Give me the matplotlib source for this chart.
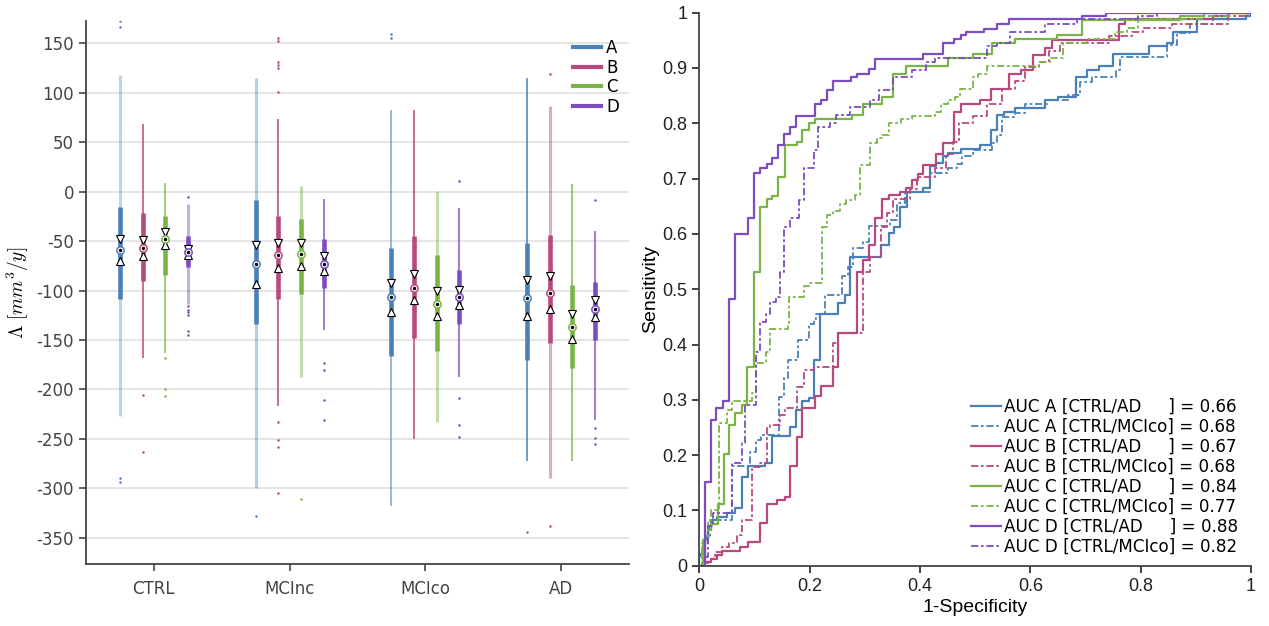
import numpy as np
import matplotlib
matplotlib.use("Agg")
import matplotlib.pyplot as plt
from matplotlib.ticker import FuncFormatter

plt.rcParams["axes.unicode_minus"] = False
plt.rcParams["mathtext.fontset"] = "cm"

groups = ["CTRL", "MCInc", "MCIco", "AD"]
series = ["A", "B", "C", "D"]
colors = ["#4a80b8", "#b8487e", "#78b545", "#7c4cc0"]

# box statistics, rows = series A..D, columns = groups
whisk_hi = [[118, 115, 83, 115], [68.5, 74, 83, 87], [9, 6, 1, 8], [-12, -7, -16, -40]]
q3 = [[-15, -8, -57, -52], [-22, -25, -45, -44], [-25, -28, -64, -94], [-45, -48, -79, -91]]
notch_hi = [[-48, -54, -92, -89], [-49, -52, -83, -85], [-41, -52, -100, -124], [-58, -65, -99, -110]]
median = [[-59, -73, -107, -108], [-57, -64, -97, -102], [-48, -63, -114, -137], [-61, -73, -107, -119]]
notch_lo = [[-70, -93, -122, -126], [-65, -77, -110, -119], [-54, -75, -126, -149], [-64, -80, -115, -127]]
q1 = [[-109, -134, -166, -170], [-90, -109, -148, -153], [-84, -104, -161, -178], [-76, -97, -134, -150]]
whisk_lo = [[-227, -300, -318, -272], [-168, -217, -250, -290], [-163, -187, -233, -272], [-114, -140, -187, -231]]
outliers = [
    [[173, 167, -290, -294], [-328], [160, 155], [-344]],
    [[-206, -263], [156, 152, 131, 128, 125, 101, -233, -251, -258, -305], [], [119, -338]],
    [[-168, -200, -207], [-311], [], []],
    [[-5, -116, -120, -122, -125, -141, -145], [-173, -180, -211, -231], [11, -209, -236, -248], [-8, -239, -249, -255]],
]
whisk_alpha = [[0.35, 0.4, 0.6, 0.85], [0.85, 0.85, 0.85, 0.45], [0.75, 0.45, 0.45, 0.8], [0.45, 0.8, 0.8, 0.8]]

# ROC curves (step corners)
fpr_A_ad = [0, 0.000, 0.010, 0.016, 0.022, 0.032, 0.050, 0.065, 0.077, 0.089, 0.119, 0.131, 0.164, 0.175, 0.187, 0.198, 0.208, 0.219, 0.252, 0.264, 0.273, 0.329, 0.343, 0.353, 0.364, 0.376, 0.406, 0.418, 0.429, 0.441, 0.451, 0.474, 0.508, 0.528, 0.539, 0.552, 0.572, 0.627, 0.651, 0.683, 0.703, 0.725, 0.749, 0.815, 0.847, 0.858, 0.903, 0.991, 1.0]
tpr_A_ad = [0, 0.022, 0.050, 0.065, 0.083, 0.088, 0.095, 0.104, 0.160, 0.180, 0.185, 0.235, 0.250, 0.282, 0.297, 0.304, 0.372, 0.456, 0.475, 0.490, 0.559, 0.580, 0.601, 0.613, 0.649, 0.675, 0.683, 0.723, 0.728, 0.740, 0.746, 0.753, 0.760, 0.787, 0.815, 0.820, 0.828, 0.842, 0.848, 0.884, 0.896, 0.904, 0.925, 0.939, 0.946, 0.966, 0.989, 0.994, 1.0]
fpr_A_mci = [0, 0.000, 0.010, 0.019, 0.025, 0.059, 0.092, 0.103, 0.112, 0.145, 0.154, 0.161, 0.178, 0.198, 0.208, 0.212, 0.228, 0.258, 0.270, 0.279, 0.297, 0.308, 0.346, 0.358, 0.373, 0.418, 0.451, 0.467, 0.477, 0.497, 0.530, 0.539, 0.548, 0.572, 0.590, 0.630, 0.669, 0.690, 0.711, 0.755, 0.763, 0.848, 0.865, 0.889, 0.932, 0.991, 1.0]
tpr_A_mci = [0, 0.018, 0.053, 0.071, 0.083, 0.180, 0.206, 0.227, 0.236, 0.305, 0.339, 0.372, 0.408, 0.437, 0.447, 0.455, 0.490, 0.523, 0.541, 0.574, 0.586, 0.614, 0.625, 0.655, 0.676, 0.710, 0.719, 0.726, 0.740, 0.751, 0.765, 0.779, 0.812, 0.818, 0.835, 0.842, 0.851, 0.875, 0.884, 0.896, 0.919, 0.942, 0.963, 0.980, 0.989, 0.994, 1.0]
fpr_B_ad = [0, 0.007, 0.022, 0.032, 0.041, 0.074, 0.089, 0.110, 0.123, 0.141, 0.155, 0.164, 0.177, 0.187, 0.210, 0.220, 0.243, 0.252, 0.285, 0.297, 0.308, 0.319, 0.331, 0.343, 0.364, 0.375, 0.385, 0.397, 0.406, 0.429, 0.441, 0.462, 0.474, 0.508, 0.528, 0.561, 0.583, 0.604, 0.627, 0.639, 0.760, 0.772, 0.932, 0.959, 1.0]
tpr_B_ad = [0, 0.006, 0.013, 0.020, 0.027, 0.034, 0.043, 0.078, 0.112, 0.119, 0.125, 0.181, 0.233, 0.285, 0.306, 0.325, 0.360, 0.420, 0.532, 0.553, 0.580, 0.628, 0.663, 0.670, 0.676, 0.683, 0.697, 0.708, 0.725, 0.745, 0.765, 0.821, 0.835, 0.842, 0.862, 0.889, 0.896, 0.924, 0.937, 0.951, 0.980, 0.989, 0.994, 1.0, 1.0]
fpr_B_mci = [0, 0.010, 0.022, 0.029, 0.041, 0.053, 0.068, 0.077, 0.095, 0.110, 0.122, 0.128, 0.146, 0.155, 0.177, 0.189, 0.207, 0.242, 0.252, 0.297, 0.309, 0.329, 0.340, 0.352, 0.382, 0.394, 0.427, 0.448, 0.459, 0.471, 0.496, 0.521, 0.548, 0.572, 0.590, 0.615, 0.633, 0.654, 0.743, 0.784, 0.805, 0.856, 0.959, 0.992, 1.0]
tpr_B_mci = [0, 0.004, 0.013, 0.025, 0.033, 0.041, 0.056, 0.083, 0.179, 0.186, 0.251, 0.255, 0.273, 0.285, 0.323, 0.353, 0.360, 0.402, 0.420, 0.532, 0.559, 0.613, 0.637, 0.663, 0.681, 0.703, 0.719, 0.745, 0.767, 0.800, 0.813, 0.835, 0.862, 0.877, 0.902, 0.910, 0.930, 0.945, 0.958, 0.965, 0.972, 0.980, 0.994, 1.0, 1.0]
fpr_C_ad = [0, 0.007, 0.016, 0.022, 0.033, 0.044, 0.054, 0.065, 0.077, 0.087, 0.099, 0.110, 0.122, 0.132, 0.143, 0.155, 0.177, 0.187, 0.198, 0.210, 0.276, 0.297, 0.331, 0.352, 0.375, 0.451, 0.496, 0.530, 0.572, 0.649, 0.693, 0.871, 0.914, 1.0]
tpr_C_ad = [0, 0.046, 0.065, 0.075, 0.112, 0.202, 0.254, 0.276, 0.290, 0.360, 0.532, 0.649, 0.663, 0.669, 0.703, 0.760, 0.767, 0.787, 0.801, 0.808, 0.815, 0.835, 0.848, 0.890, 0.904, 0.918, 0.925, 0.945, 0.952, 0.959, 0.987, 0.994, 1.0, 1.0]
fpr_C_mci = [0, 0.005, 0.016, 0.022, 0.035, 0.050, 0.059, 0.095, 0.103, 0.121, 0.128, 0.161, 0.163, 0.189, 0.199, 0.223, 0.231, 0.242, 0.255, 0.266, 0.282, 0.291, 0.309, 0.322, 0.332, 0.343, 0.365, 0.385, 0.427, 0.438, 0.451, 0.464, 0.473, 0.496, 0.506, 0.521, 0.616, 0.636, 0.659, 0.702, 0.753, 0.775, 0.796, 0.914, 0.960, 1.0]
tpr_C_mci = [0, 0.041, 0.083, 0.100, 0.258, 0.282, 0.298, 0.312, 0.367, 0.387, 0.428, 0.437, 0.485, 0.505, 0.511, 0.613, 0.634, 0.642, 0.654, 0.661, 0.670, 0.725, 0.765, 0.773, 0.779, 0.800, 0.807, 0.813, 0.821, 0.834, 0.842, 0.848, 0.862, 0.883, 0.890, 0.904, 0.910, 0.918, 0.945, 0.952, 0.965, 0.972, 0.989, 0.994, 1.0, 1.0]
fpr_D_ad = [0, 0.010, 0.022, 0.031, 0.043, 0.054, 0.065, 0.089, 0.099, 0.110, 0.122, 0.132, 0.143, 0.154, 0.164, 0.176, 0.210, 0.220, 0.231, 0.242, 0.275, 0.285, 0.308, 0.319, 0.406, 0.441, 0.462, 0.474, 0.484, 0.516, 0.539, 0.562, 0.693, 0.737, 1.0]
tpr_D_ad = [0, 0.152, 0.263, 0.285, 0.297, 0.483, 0.600, 0.628, 0.711, 0.719, 0.726, 0.738, 0.760, 0.780, 0.794, 0.814, 0.834, 0.842, 0.861, 0.876, 0.883, 0.890, 0.898, 0.917, 0.925, 0.946, 0.952, 0.959, 0.965, 0.971, 0.980, 0.989, 0.994, 1.0, 1.0]
fpr_D_mci = [0, 0.010, 0.016, 0.025, 0.059, 0.077, 0.083, 0.103, 0.110, 0.121, 0.128, 0.139, 0.146, 0.154, 0.164, 0.180, 0.190, 0.207, 0.215, 0.237, 0.248, 0.273, 0.309, 0.326, 0.352, 0.385, 0.411, 0.427, 0.522, 0.539, 0.564, 0.627, 0.684, 0.796, 0.829, 1.0]
tpr_D_mci = [0, 0.016, 0.071, 0.095, 0.185, 0.221, 0.290, 0.387, 0.441, 0.456, 0.477, 0.485, 0.532, 0.613, 0.628, 0.661, 0.719, 0.752, 0.794, 0.800, 0.815, 0.829, 0.842, 0.861, 0.883, 0.896, 0.910, 0.918, 0.939, 0.946, 0.965, 0.980, 0.989, 0.994, 1.0, 1.0]

auc_ad = [0.66, 0.67, 0.84, 0.88]
auc_mci = [0.68, 0.68, 0.77, 0.82]

roc_ad = [(fpr_A_ad, tpr_A_ad), (fpr_B_ad, tpr_B_ad), (fpr_C_ad, tpr_C_ad), (fpr_D_ad, tpr_D_ad)]
roc_mci = [(fpr_A_mci, tpr_A_mci), (fpr_B_mci, tpr_B_mci), (fpr_C_mci, tpr_C_mci), (fpr_D_mci, tpr_D_mci)]

fig = plt.figure(figsize=(12.69, 6.26), dpi=100)
ax1 = fig.add_axes([86 / 1269, 61.7 / 626, 543 / 1269, 543.6 / 626])
ax2 = fig.add_axes([699.3 / 1269, 60.3 / 626, 551.7 / 1269, 553 / 626])

# ---- left: boxes
offsets = [-0.25, -0.0833, 0.0833, 0.25]
for i in range(4):
    c = colors[i]
    for j in range(4):
        x = j + offsets[i]
        wa = whisk_alpha[i][j]
        wl = 2.2 if wa < 0.6 else 1.3
        ax1.plot([x, x], [whisk_lo[i][j], whisk_hi[i][j]], color=c, alpha=wa, lw=wl,
                 solid_capstyle="butt", zorder=2)
        ax1.plot([x, x], [q1[i][j], q3[i][j]], color=c, lw=3.3, solid_capstyle="butt", zorder=3)
        ax1.plot(x, notch_hi[i][j], marker="v", ms=6.3, mfc="white", mec="black", mew=0.8, zorder=4)
        ax1.plot(x, notch_lo[i][j], marker="^", ms=6.3, mfc="white", mec="black", mew=0.8, zorder=4)
        ax1.plot(x, median[i][j], marker="o", ms=5.3, mfc="white", mec=c, mew=1.1, zorder=5)
        ax1.plot(x, median[i][j], marker="o", ms=1.5, color="black", zorder=6)
        outs = outliers[i][j]
        if outs:
            ax1.plot([x] * len(outs), outs, "o", ms=1.8, color=c, mew=0, zorder=3)
    ax1.plot([], [], color=c, lw=3, label=series[i])

ax1.set_xlim(-0.5, 3.5)
ax1.set_ylim(-377, 173)
ax1.set_xticks(range(4))
ax1.set_xticklabels(groups)
ax1.set_yticks(np.arange(-350, 151, 50))
ax1.yaxis.grid(True, color="#e3e3e3", lw=1.3)
ax1.set_axisbelow(True)
ax1.set_ylabel(r"$\Lambda\ [mm^3/y]$", fontsize=14, labelpad=4)
ax1.tick_params(labelsize=12, colors="#444444", length=5, width=1.2)
ax1.tick_params(axis="x", pad=6)
ax1.legend(loc="upper right", bbox_to_anchor=(1.0, 0.985), frameon=False, fontsize=12,
           handlelength=1.7, handletextpad=0.3, labelspacing=0.1, borderaxespad=0.2)

# ---- right: ROC
for i in range(4):
    ax2.plot(roc_ad[i][0], roc_ad[i][1], drawstyle="steps-post", color=colors[i], lw=1.6,
             label=f"AUC {series[i]} [CTRL/AD     ] = {auc_ad[i]:.2f}")
    ax2.plot(roc_mci[i][0], roc_mci[i][1], drawstyle="steps-post", color=colors[i], lw=1.3,
             ls=(0, (4, 1.5, 1.5, 1.5)),
             label=f"AUC {series[i]} [CTRL/MCIco] = {auc_mci[i]:.2f}")

ax2.set_xlim(0, 1)
ax2.set_ylim(0, 1)
ax2.set_xticks(np.arange(0, 1.01, 0.2))
ax2.set_yticks(np.arange(0, 1.01, 0.1))
fmt = FuncFormatter(lambda v, p: f"{v:g}")
ax2.xaxis.set_major_formatter(fmt)
ax2.yaxis.set_major_formatter(fmt)
ax2.tick_params(labelsize=13, colors="#222222", length=5, width=1.2)
for lab in ax2.get_xticklabels() + ax2.get_yticklabels():
    lab.set_fontfamily("Liberation Sans")
ax2.set_xlabel("1-Specificity", fontsize=14, family="Liberation Sans", labelpad=3)
ax2.set_ylabel("Sensitivity", fontsize=14, family="Liberation Sans", labelpad=2)
ax2.legend(loc="lower right", bbox_to_anchor=(0.995, 0.0), frameon=False, fontsize=12.1,
           handlelength=1.75, handletextpad=0.2, labelspacing=0.12, borderaxespad=0.2)

for ax in (ax1, ax2):
    for s in ("top", "right"):
        ax.spines[s].set_visible(False)
    for s in ("left", "bottom"):
        ax.spines[s].set_color("#444444")
        ax.spines[s].set_linewidth(1.3)

fig.savefig("out.png", dpi=100)
